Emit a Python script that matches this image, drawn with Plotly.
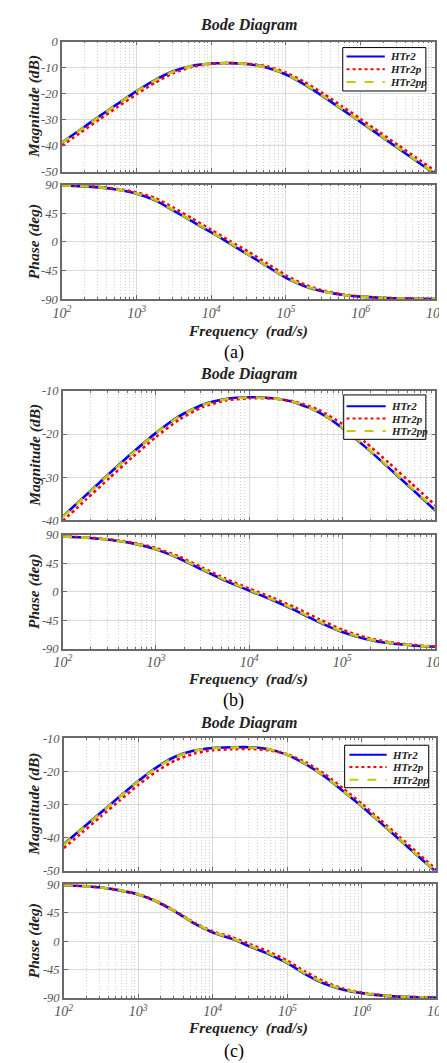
import plotly.graph_objects as go

# ---------------- data ----------------
freq_a = [100, 178, 316, 562, 1000, 1778, 3162, 5623, 10000, 17783, 31623, 56234,
          100000, 177828, 316228, 562341, 1000000, 1778279, 3162278, 5623413, 10000000]
freq_b = [100, 178, 316, 562, 1000, 1778, 3162, 5623, 10000, 17783, 31623, 56234,
          100000, 177828, 316228, 562341, 1000000]
freq_c = freq_a

a_mag_HTr2 = [-38.7, -33.7, -28.7, -23.8, -19.0, -14.7, -11.3, -9.25, -8.39, -8.24, -8.66, -9.98,
              -12.63, -16.5, -21.1, -26.0, -30.9, -35.9, -40.9, -45.9, -50.9]
a_mag_HTr2p = [-39.9, -34.9, -29.9, -25.0, -20.15, -15.7, -12.0, -9.61, -8.52, -8.22, -8.49, -9.55,
               -11.86, -15.5, -19.96, -24.8, -29.7, -34.7, -39.7, -44.7, -49.7]
a_mag_HTr2pp = [-38.8, -33.8, -28.8, -23.9, -19.1, -14.8, -11.4, -9.3, -8.4, -8.23, -8.62, -9.9,
                -12.5, -16.35, -20.95, -25.85, -30.75, -35.75, -40.75, -45.75, -50.75]
a_ph_HTr2 = [89.0, 87.8, 85.8, 82.0, 76.0, 65.5, 49.0, 32.0, 15.0, -2.5, -20.5, -38.5,
             -56.5, -69.5, -78.0, -83.0, -86.0, -87.8, -88.8, -89.3, -89.6]
a_ph_HTr2p = [89.2, 88.2, 86.5, 83.3, 78.0, 69.0, 53.5, 36.5, 19.0, 1.5, -15.5, -34.0,
              -52.5, -67.0, -76.5, -82.3, -85.6, -87.6, -88.7, -89.3, -89.6]
a_ph_HTr2pp = [89.0, 87.9, 85.9, 82.2, 76.4, 66.1, 49.7, 32.7, 15.7, -1.8, -19.8, -37.9,
               -55.9, -69.1, -77.8, -82.9, -85.9, -87.8, -88.8, -89.3, -89.6]

b_mag_HTr2 = [-39.10, -34.12, -29.16, -24.30, -19.72, -15.84, -13.18, -11.87, -11.47, -11.69,
              -12.71, -14.98, -18.58, -23.03, -27.84, -32.77, -37.75]
b_mag_HTr2p = [-40.15, -35.16, -30.2, -25.32, -20.67, -16.62, -13.73, -12.21, -11.67, -11.75,
               -12.51, -14.40, -17.66, -21.93, -26.68, -31.59, -36.57]
b_mag_HTr2pp = [-39.2, -34.2, -29.25, -24.4, -19.8, -15.9, -13.22, -11.9, -11.5, -11.7,
                -12.68, -14.9, -18.45, -22.88, -27.68, -32.6, -37.58]
b_ph_HTr2 = [87.6, 85.8, 82.5, 76.8, 67.3, 52.8, 34.9, 17.3, 2.0, -13.0, -29.9, -48.1,
             -63.9, -74.7, -81.3, -85.1, -87.2]
b_ph_HTr2p = [87.8, 86.2, 83.2, 78.0, 69.3, 55.7, 38.2, 20.5, 5.1, -9.3, -25.3, -43.3,
              -60.0, -72.2, -79.8, -84.2, -86.75]
b_ph_HTr2pp = [87.6, 85.9, 82.7, 77.1, 67.8, 53.5, 35.7, 18.1, 2.8, -12.1, -28.8, -47.0,
               -63.1, -74.2, -81.0, -84.9, -87.1]

c_mag_HTr2 = [-42.0, -37.2, -32.4, -27.6, -22.9, -18.7, -15.5, -13.7, -12.9, -12.7, -12.7, -13.3,
              -15.0, -17.9, -21.5, -26.0, -30.6, -35.5, -40.5, -45.5, -50.5]
c_mag_HTr2p = [-43.2, -38.4, -33.6, -28.8, -24.1, -19.9, -16.6, -14.6, -13.6, -13.3, -13.2, -13.6,
               -14.8, -17.3, -20.8, -25.2, -29.8, -34.7, -39.7, -44.7, -49.7]
c_mag_HTr2pp = [-42.1, -37.3, -32.5, -27.7, -23.0, -18.8, -15.6, -13.75, -12.95, -12.75, -12.75, -13.3,
                -14.95, -17.8, -21.4, -25.9, -30.5, -35.4, -40.4, -45.4, -50.4]
c_ph_HTr2 = [89.3, 87.5, 85.0, 80.5, 74.0, 62.5, 46.5, 28.0, 13.7, 4.0, -8.5, -20.5,
             -35.0, -53.0, -67.5, -77.0, -82.5, -86.0, -88.0, -89.0, -89.6]
c_ph_HTr2p = [89.3, 87.6, 85.2, 80.8, 74.5, 63.3, 47.5, 29.5, 15.3, 6.5, -5.0, -16.5,
              -31.0, -49.0, -64.5, -75.3, -81.6, -85.5, -87.8, -88.9, -89.5]
c_ph_HTr2pp = [89.3, 87.5, 85.0, 80.6, 74.2, 62.8, 46.9, 28.6, 14.3, 4.8, -7.6, -19.5,
               -34.0, -52.0, -66.8, -76.6, -82.3, -85.9, -88.0, -89.0, -89.6]

series_names = ["HTr2", "HTr2p", "HTr2pp"]
mag_ticks_a = [-50, -40, -30, -20, -10, 0]
mag_ticks_b = [-40, -30, -20, -10]
mag_ticks_c = [-50, -40, -30, -20, -10]
phase_ticks = [-90, -45, 0, 45, 90]
panel_labels = ["(a)", "(b)", "(c)"]

# ---------------- layout helpers ----------------
W, H = 447, 1063
def px(x): return x / W
def py(y): return 1 - y / H

SERIF = "Liberation Serif, Times New Roman, serif"
colors = ["#0000ff", "#ff0000", "#c8c800"]
dashes = ["solid", "dot", "dash"]

fig = go.Figure()

panels = [
    dict(freq=freq_a, mags=[a_mag_HTr2, a_mag_HTr2p, a_mag_HTr2pp],
         phs=[a_ph_HTr2, a_ph_HTr2p, a_ph_HTr2pp], xr=[2, 7], magr=[-50, 0], magt=mag_ticks_a,
         x0=47, x1=438, mag=(27, 159), ph=(172, 288), title_y=10, freq_y=320, lab_y=342,
         leg_box=(341, 33, 428, 77), leg_rows=(42, 55, 68), leg_line=(345, 385), leg_text=388),
    dict(freq=freq_b, mags=[b_mag_HTr2, b_mag_HTr2p, b_mag_HTr2pp],
         phs=[b_ph_HTr2, b_ph_HTr2p, b_ph_HTr2pp], xr=[2, 6], magr=[-40, -10], magt=mag_ticks_b,
         x0=48, x1=438, mag=(381, 512), ph=(527, 642), title_y=364, freq_y=673, lab_y=695,
         leg_box=(342, 385, 428, 430), leg_rows=(396.5, 409, 421.5), leg_line=(345, 386), leg_text=389),
    dict(freq=freq_c, mags=[c_mag_HTr2, c_mag_HTr2p, c_mag_HTr2pp],
         phs=[c_ph_HTr2, c_ph_HTr2p, c_ph_HTr2pp], xr=[2, 7], magr=[-50, -10], magt=mag_ticks_c,
         x0=49, x1=439, mag=(733, 867), ph=(881, 996), title_y=717, freq_y=1027, lab_y=1050,
         leg_box=(343, 740, 431, 783), leg_rows=(749.5, 762, 775), leg_line=(348, 387), leg_text=390),
]

axis_common = dict(
    showline=True, mirror="allticks", linecolor="#6a6a6a", linewidth=1.5,
    ticks="inside", ticklen=4, tickcolor="#6a6a6a",
    showgrid=True, gridcolor="#d9d9d9", gridwidth=1, zeroline=False,
    tickfont=dict(family=SERIF, size=12.5, color="#555555", style="italic"),
    ticklabeloverflow="allow",
)

annotations = []
shapes = []
layout_axes = {}
for p_i, p in enumerate(panels):
    ax_mag = 2 * p_i + 1
    ax_ph = 2 * p_i + 2
    for k in range(3):
        fig.add_trace(go.Scatter(
            x=p["freq"], y=p["mags"][k], mode="lines", name=series_names[k],
            line=dict(color=colors[k], width=2.6, dash=dashes[k], shape="spline", smoothing=0.6),
            xaxis=f"x{ax_mag}", yaxis=f"y{ax_mag}", showlegend=False))
    for k in range(3):
        fig.add_trace(go.Scatter(
            x=p["freq"], y=p["phs"][k], mode="lines", name=series_names[k],
            line=dict(color=colors[k], width=2.6, dash=dashes[k], shape="spline", smoothing=0.6),
            xaxis=f"x{ax_ph}", yaxis=f"y{ax_ph}", showlegend=False))

    xdom = [px(p["x0"]), px(p["x1"])]
    decades = list(range(p["xr"][0], p["xr"][1] + 1))
    xt_vals = [10 ** d for d in decades]
    xt_text = [f"10<sup>{d}</sup>" for d in decades]
    minor = dict(dtick="D1", ticks="inside", ticklen=2, tickcolor="#6a6a6a",
                 showgrid=True, gridcolor="#d2d2d2", griddash="1px,2px", gridwidth=1)
    xm = dict(axis_common, type="log", range=p["xr"], domain=xdom, anchor=f"y{ax_mag}",
              tickvals=xt_vals, showticklabels=False, minor=minor)
    xp = dict(axis_common, type="log", range=p["xr"], domain=xdom, anchor=f"y{ax_ph}",
              tickvals=xt_vals, ticktext=xt_text, showticklabels=True, minor=minor,
              tickfont=dict(family=SERIF, size=14, color="#555555", style="italic"))
    ym = dict(axis_common, range=p["magr"], domain=[py(p["mag"][1]), py(p["mag"][0])],
              anchor=f"x{ax_mag}", tickvals=p["magt"], ticktext=[str(v) for v in p["magt"]])
    yp = dict(axis_common, range=[-90, 90], domain=[py(p["ph"][1]), py(p["ph"][0])],
              anchor=f"x{ax_ph}", tickvals=phase_ticks, ticktext=[str(v) for v in phase_ticks])
    layout_axes[f"xaxis{ax_mag}"] = xm
    layout_axes[f"xaxis{ax_ph}"] = xp
    layout_axes[f"yaxis{ax_mag}"] = ym
    layout_axes[f"yaxis{ax_ph}"] = yp

    # legend box drawn as shapes + text (compact, like MATLAB)
    bx0, by0, bx1, by1 = p["leg_box"]
    shapes.append(dict(type="rect", xref="paper", yref="paper",
                       x0=px(bx0), x1=px(bx1), y0=py(by1), y1=py(by0),
                       line=dict(color="black", width=1), fillcolor="white", layer="above"))
    for k in range(3):
        ry = p["leg_rows"][k]
        shapes.append(dict(type="line", xref="paper", yref="paper",
                           x0=px(p["leg_line"][0]), x1=px(p["leg_line"][1]), y0=py(ry), y1=py(ry),
                           line=dict(color=colors[k], width=2, dash=dashes[k]), layer="above"))
        annotations.append(dict(text=series_names[k], x=px(p["leg_text"]), y=py(ry),
                                xref="paper", yref="paper", showarrow=False,
                                xanchor="left", yanchor="middle",
                                font=dict(family=SERIF, size=11, color="#222222",
                                          style="italic", weight="bold")))

    title_font = dict(family=SERIF, size=15.5, color="#222222", style="italic", weight="bold")
    annotations.append(dict(text="Bode Diagram", x=px(242), y=py(p["title_y"]),
                            xref="paper", yref="paper", showarrow=False,
                            font=dict(title_font, size=16),
                            xanchor="center", yanchor="middle"))
    annotations.append(dict(text="Magnitude (dB)", x=px(18), y=py((p["mag"][0] + p["mag"][1]) / 2),
                            xref="paper", yref="paper", showarrow=False, font=title_font,
                            textangle=-90, xanchor="center", yanchor="middle"))
    annotations.append(dict(text="Phase (deg)", x=px(18), y=py((p["ph"][0] + p["ph"][1]) / 2),
                            xref="paper", yref="paper", showarrow=False, font=title_font,
                            textangle=-90, xanchor="center", yanchor="middle"))
    annotations.append(dict(text="Frequency\u00a0\u00a0(rad/s)", x=px(242), y=py(p["freq_y"]),
                            xref="paper", yref="paper", showarrow=False, font=title_font,
                            xanchor="center", yanchor="middle"))
    annotations.append(dict(text=panel_labels[p_i], x=px(227), y=py(p["lab_y"]),
                            xref="paper", yref="paper", showarrow=False,
                            font=dict(family=SERIF, size=18, color="black"),
                            xanchor="center", yanchor="middle"))

fig.update_layout(
    width=W, height=H, margin=dict(l=0, r=0, t=0, b=0),
    paper_bgcolor="white", plot_bgcolor="white", showlegend=False,
    annotations=annotations, shapes=shapes, **layout_axes)

fig.write_html("out.html")
